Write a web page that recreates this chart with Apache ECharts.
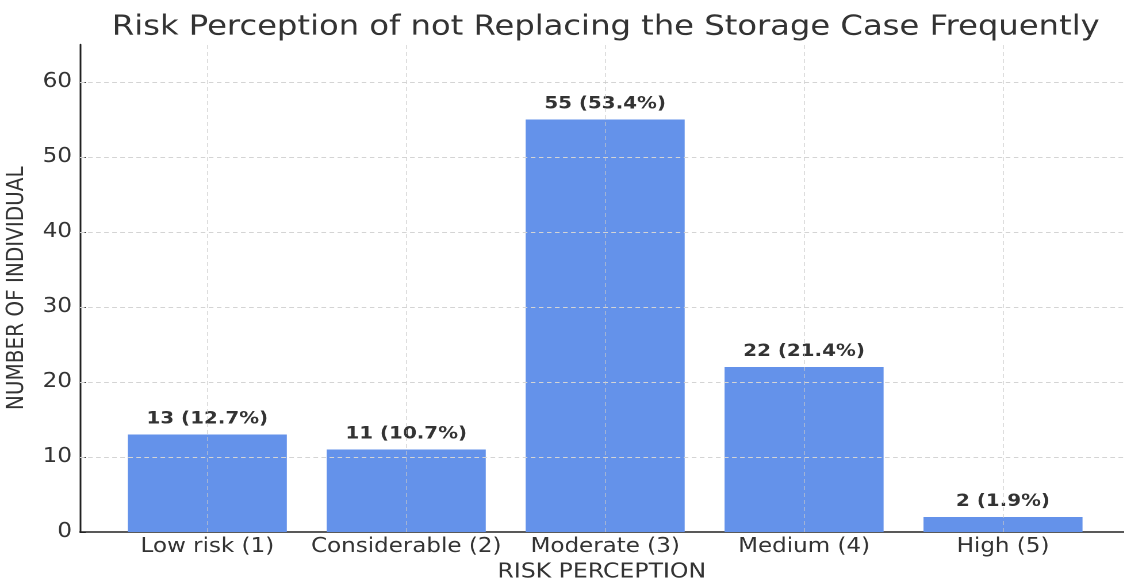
<!DOCTYPE html>
<html>
<head>
<meta charset="utf-8">
<script src="https://cdn.jsdelivr.net/npm/echarts@6/dist/echarts.min.js"></script>
<style>
  html, body { margin: 0; padding: 0; background: #fff; overflow: hidden; }
  /* the chart is laid out in a narrower box and widened horizontally */
  #chart { width: 977.39px; height: 583px; transform: scaleX(1.15); transform-origin: 0 0; }
</style>
</head>
<body>
<div id="chart"></div>
<script>
// Survey responses: perceived risk of not replacing the storage case frequently
const categories = ['Low risk (1)', 'Considerable (2)', 'Moderate (3)', 'Medium (4)', 'High (5)'];
const counts = [13, 11, 55, 22, 2];
const percents = [12.7, 10.7, 53.4, 21.4, 1.9];
const yTicks = [0, 10, 20, 30, 40, 50, 60];

const SX = 1.15;            // horizontal widening applied by CSS
const FONT = 'DejaVu Sans';
const TEXT = '#333333';
const positions = categories.map((_, i) => i);

const chart = echarts.init(document.getElementById('chart'), null, { renderer: 'canvas', devicePixelRatio: 2 });

chart.setOption({
  animation: false,
  backgroundColor: '#ffffff',
  title: {
    text: 'Risk Perception of not Replacing the Storage Case Frequently',
    left: 600 / SX, textAlign: 'center', top: 8,
    textStyle: { fontFamily: FONT, fontSize: 28, fontWeight: 'normal', color: TEXT }
  },
  grid: {
    left: 80 / SX, right: 0, top: 44.5, bottom: 51,
    containLabel: false, outerBoundsMode: 'none'
  },
  xAxis: {
    type: 'value',
    min: -0.64, max: 4.606,
    name: 'RISK PERCEPTION',
    nameLocation: 'middle', nameGap: 27,
    nameTextStyle: { fontFamily: FONT, fontSize: 20.5, color: TEXT },
    axisLine: { show: true, onZero: false, lineStyle: { color: '#222', width: 1.5 } },
    axisTick: { show: true, inside: true, length: 5, customValues: positions, lineStyle: { color: '#222' } },
    axisLabel: {
      customValues: positions, margin: 5,
      fontFamily: FONT, fontSize: 20, color: TEXT,
      formatter: v => categories[Math.round(v)]
    },
    splitLine: { show: false }
  },
  yAxis: {
    type: 'value',
    min: 0, max: 65,
    name: 'NUMBER OF INDIVIDUAL',
    nameLocation: 'middle', nameGap: 45, nameRotate: 90,
    nameTextStyle: { fontFamily: FONT, fontSize: 20, color: TEXT },
    axisLine: { show: true, onZero: false, lineStyle: { color: '#222', width: 1.5 } },
    axisTick: { show: true, inside: true, length: 5, customValues: yTicks, lineStyle: { color: '#222' } },
    axisLabel: {
      customValues: yTicks, margin: 7,
      fontFamily: FONT, fontSize: 20, color: TEXT
    },
    splitLine: { show: false }
  },
  series: [
    {
      // horizontal dashed grid lines at the y ticks
      type: 'line', data: [], silent: true,
      markLine: {
        silent: true, symbol: 'none', label: { show: false },
        lineStyle: { type: [4, 3], color: '#d4d4d4', width: 1 },
        data: yTicks.filter(v => v > 0).map(v => ({ yAxis: v }))
      },
      z: 1
    },
    {
      type: 'bar',
      barWidth: 159 / SX,
      itemStyle: { color: '#6492EA' },
      data: counts.map((c, i) => [positions[i], c]),
      label: {
        show: true, position: 'top', distance: 7,
        fontFamily: FONT, fontSize: 17.3, fontWeight: 'bold', color: TEXT,
        formatter: p => counts[p.dataIndex] + ' (' + percents[p.dataIndex].toFixed(1) + '%)'
      },
      markLine: {
        // vertical dashed grid lines through the category centres
        silent: true, symbol: 'none', label: { show: false },
        lineStyle: { type: [4, 3], color: 'rgba(200,200,200,0.6)', width: 1 },
        data: positions.map(v => ({ xAxis: v }))
      },
      z: 2
    }
  ]
});
</script>
</body>
</html>
